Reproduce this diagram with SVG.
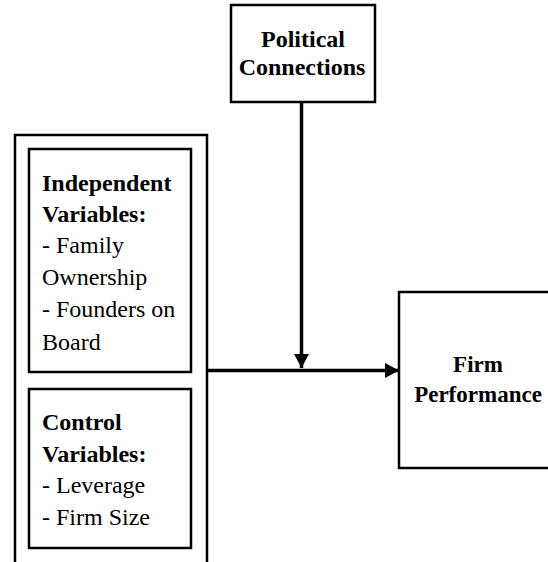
<svg xmlns="http://www.w3.org/2000/svg" width="548" height="562" viewBox="0 0 548 562">
<style>
.box{fill:#fff;stroke:#000;stroke-width:2.5}
.open{fill:none;stroke:#000;stroke-width:2.5}
.conn{fill:none;stroke:#000;stroke-width:3.5}
text{font-family:'Liberation Serif','DejaVu Serif',serif;fill:#000}
.b{font-weight:bold}
</style>
<defs>
<marker id="ah" markerUnits="userSpaceOnUse" markerWidth="16" markerHeight="16" refX="14" refY="7.5" orient="auto">
<path d="M0,0 L14,7.5 L0,15 Z" fill="#000"/>
</marker>
</defs>
<rect width="548" height="562" fill="#fff"/>
<g id="political">
<rect class="box" x="231" y="5" width="144" height="97"/>
<text class="b" font-size="24" text-anchor="middle" x="303" y="47">Political</text>
<text class="b" font-size="24" text-anchor="middle" x="302" y="75">Connections</text>
</g>
<g id="group">
<path class="open" d="M15,564 L15,135 L207,135 L207,564"/>
</g>
<g id="independent">
<rect class="box" x="29" y="149" width="162" height="223"/>
<text class="b" font-size="24" x="42" y="191">Independent</text>
<text class="b" font-size="24" x="42" y="222">Variables:</text>
<text font-size="24" x="42" y="253">- Family</text>
<text font-size="24" x="42" y="285">Ownership</text>
<text font-size="24" x="42" y="317">- Founders on</text>
<text font-size="24" x="42" y="350">Board</text>
</g>
<g id="control">
<rect class="box" x="29" y="389" width="162" height="159"/>
<text class="b" font-size="24" x="42" y="430">Control</text>
<text class="b" font-size="24" x="42" y="462">Variables:</text>
<text font-size="24" x="42" y="493">- Leverage</text>
<text font-size="24" x="42" y="525">- Firm Size</text>
</g>
<g id="performance">
<rect class="box" x="399" y="292" width="160" height="176"/>
<text class="b" font-size="23" text-anchor="middle" x="478" y="372">Firm</text>
<text class="b" font-size="23" text-anchor="middle" x="478" y="402">Performance</text>
</g>
<g id="connectors">
<line class="conn" x1="208" y1="370.5" x2="399" y2="370.5" marker-end="url(#ah)"/>
<line class="conn" x1="301.5" y1="102" x2="301.5" y2="368" marker-end="url(#ah)"/>
</g>
</svg>
